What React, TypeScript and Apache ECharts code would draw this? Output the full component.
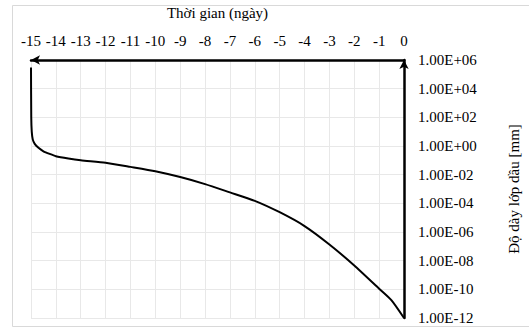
import React, { useEffect, useRef } from "react";
import * as echarts from "echarts";

// Time in days (x) and oil layer thickness in mm (y, log scale)
const days: number[] = [
  -15, -14.99, -14.97, -14.93, -14.85, -14.7, -14.5, -14.25, -14, -13.5, -13,
  -12, -11, -10, -9, -8, -7, -6, -5, -4, -3, -2, -1, -0.5, 0,
];
const thickness: number[] = [
  3e5, 1e2, 1e1, 2.9, 1.4, 7.5e-1, 4.3e-1, 2.8e-1, 1.95e-1, 1.35e-1, 1.02e-1,
  6.8e-2, 3.5e-2, 1.74e-2, 6.8e-3, 2.2e-3, 5.8e-4, 1.5e-4, 2.4e-5, 2.6e-6,
  1.35e-7, 4.6e-9, 1.1e-10, 1.7e-11, 1e-12,
];

const xAxisTitle = "Thời gian (ngày)";
const yAxisTitle = "Độ dày lớp dầu [mm]";
const xMin = -15;
const xMax = 0;
const yMin = 1e-12;
const yMax = 1e6;

const FONT = "Liberation Serif";

function fmtSci(v: number): string {
  const e = Math.round(Math.log10(v));
  const sign = e < 0 ? "-" : "+";
  const a = Math.abs(e);
  return "1.00E" + sign + (a < 10 ? "0" + a : String(a));
}

export default function App() {
  const ref = useRef<HTMLDivElement>(null);
  useEffect(() => {
    if (!ref.current) return;
    const chart = echarts.init(ref.current, undefined, { renderer: "svg" });
    const data = days.map((d, i) => [d, thickness[i]]);
    const txt = { fontFamily: FONT, fontSize: 15, color: "#000" };
    chart.setOption({
      animation: false,
      backgroundColor: "#ffffff",
      textStyle: { fontFamily: FONT },
      grid: { left: 31, right: 116, top: 57, bottom: 10, containLabel: false },
      graphic: [
        {
          type: "rect",
          shape: { x: 12.5, y: 5.5, width: 530, height: 321 },
          style: { fill: "none", stroke: "#d9d9d9", lineWidth: 1 },
          silent: true,
          z: -10,
        },
      ],
      xAxis: {
        type: "value",
        position: "top",
        min: xMin,
        max: xMax,
        interval: 1,
        name: xAxisTitle,
        nameLocation: "middle",
        nameGap: 40,
        nameTextStyle: txt,
        axisLine: {
          show: true,
          onZero: false,
          symbol: ["arrow", "none"],
          symbolSize: [7, 9],
          lineStyle: { color: "#000", width: 2.5 },
        },
        axisTick: { show: false },
        axisLabel: { ...txt, margin: 12 },
        splitLine: { show: true, lineStyle: { color: "#e8e8e8", width: 1 } },
      },
      yAxis: {
        type: "log",
        logBase: 10,
        position: "right",
        min: yMin,
        max: yMax,
        interval: 2,
        name: yAxisTitle,
        nameLocation: "middle",
        nameRotate: 90,
        nameGap: 102,
        nameTextStyle: txt,
        axisLine: {
          show: true,
          onZero: false,
          symbol: ["none", "arrow"],
          symbolSize: [7, 9],
          lineStyle: { color: "#000", width: 2.5 },
        },
        axisTick: { show: false },
        axisLabel: {
          ...txt,
          margin: 14,
          formatter: (v: number) => fmtSci(v),
        },
        splitLine: { show: true, lineStyle: { color: "#e8e8e8", width: 1 } },
        minorTick: { show: false },
      },
      series: [
        {
          type: "line",
          data,
          showSymbol: false,
          smooth: 0.2,
          lineStyle: { color: "#000", width: 2 },
          z: 1,
        },
      ],
    });
    return () => chart.dispose();
  }, []);
  return (
    <div
      ref={ref}
      style={{ position: "fixed", left: 0, top: 0, width: 529, height: 328 }}
    />
  );
}
